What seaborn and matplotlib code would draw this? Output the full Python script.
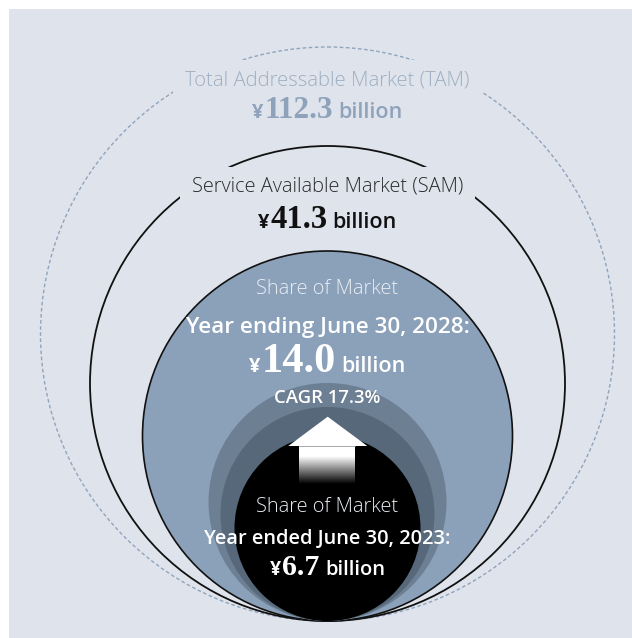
import numpy as np
import matplotlib
matplotlib.use("Agg")
import matplotlib.pyplot as plt
import seaborn as sns
from matplotlib.patches import Circle, Rectangle, Polygon

# ---------------- data ----------------
tier_titles = ["Total Addressable Market (TAM)", "Service Available Market (SAM)",
               "Share of Market", "Share of Market"]
tier_periods = ["", "", "Year ending June 30, 2028:", "Year ended June 30, 2023:"]
tier_values = [112.3, 41.3, 14.0, 6.7]
currency = "¥"
unit = "billion"
cagr_pct = 17.3

# ---------------- style ----------------
sns.set_theme(style="white")
plt.rcParams['font.family'] = ['Open Sans', 'DejaVu Sans']

W, H = 632, 638
fig = plt.figure(figsize=(W / 100, H / 100), dpi=100)
ax = fig.add_axes([0, 0, 1, 1])
ax.set_xlim(0, W)
ax.set_ylim(H, 0)
ax.axis('off')
sns.despine(ax=ax, left=True, bottom=True)

BG = '#dfe3eb'
ax.add_patch(Rectangle((9, 9), W, H, facecolor=BG, edgecolor='none', zorder=0))

CX, BOTTOM = 327.5, 621
radii = [287, 237.5, 185, 119, 107, 93]


def circ(r, **kw):
    return Circle((CX, BOTTOM - r), r, **kw)


ax.add_patch(circ(radii[0], fill=False, edgecolor='#8fa4bd', lw=1.0,
                  linestyle=(0, (2.6, 1.8)), zorder=1))
ax.add_patch(circ(radii[1], fill=False, edgecolor='#111111', lw=1.3, zorder=3))
ax.add_patch(circ(radii[2], facecolor='#8ba1ba', edgecolor='#111111', lw=1.2, zorder=5))
ax.add_patch(circ(radii[3], facecolor='#6d7f93', edgecolor='none', zorder=6))
ax.add_patch(circ(radii[4], facecolor='#566879', edgecolor='none', zorder=7))
ax.add_patch(circ(radii[5], facecolor='#000000', edgecolor='none', zorder=8))

# arrow
ax.add_patch(Polygon([(288.3, 446), (327.7, 416.7), (367.3, 446)], closed=True,
                     facecolor='white', edgecolor='none', zorder=9))
grad_y = np.linspace(446, 485, 80)
vals = np.clip(1 - (grad_y - 456) / (484 - 456), 0, 1)
ax.imshow(vals[:, None], cmap='gray', vmin=0, vmax=1, aspect='auto',
          extent=(299.3, 355, 485, 446), zorder=9, interpolation='bilinear')
ax.plot([299.3, 355], [446.3, 446.3], color='#9a9a9a', lw=0.6, zorder=9.5)
ax.set_xlim(0, W)
ax.set_ylim(H, 0)

fig.canvas.draw()
renderer = fig.canvas.get_renderer()


def rich(y, parts, gaps, color, z=20):
    texts, widths = [], []
    for s, kw in parts:
        t = ax.text(0, y, s, ha='left', va='baseline', color=color, zorder=z, **kw)
        texts.append(t)
        widths.append(t.get_window_extent(renderer).width)
    total = sum(widths) + sum(gaps)
    x = CX - total / 2
    for i, (t, w) in enumerate(zip(texts, widths)):
        t.set_x(x)
        x += w + (gaps[i] if i < len(gaps) else 0)
    return texts


def line(y, s, color, size, weight, z=20):
    return ax.text(CX, y, s, ha='center', va='baseline', color=color,
                   fontsize=size, fontweight=weight, zorder=z)


SERIF = ['Liberation Serif', 'DejaVu Serif']


def value_parts(v, ysize, nsize, bsize):
    return [(currency, dict(fontsize=ysize, fontweight='bold')),
            (f"{v:.1f}", dict(fontsize=nsize, fontweight='bold', family=SERIF)),
            (unit, dict(fontsize=bsize, fontweight='semibold'))]


# TAM
t_tam = line(85, tier_titles[0], '#9fb0c3', 14.6, 'light')
rich(117.5, value_parts(tier_values[0], 14.5, 22.5, 15.5), [1, 5], '#8ea3bb')
# SAM
t_sam = line(192, tier_titles[1], '#2a2a2a', 14.4, 'light')
rich(228.5, value_parts(tier_values[1], 14.5, 23.5, 15.5), [1, 5], '#111111')
# SOM 2028
line(294, tier_titles[2], '#e8edf3', 14.4, 'light')
line(333, tier_periods[2], 'white', 16.2, 'semibold')
rich(371.5, value_parts(tier_values[2], 14.5, 30.5, 15.5), [1, 6], 'white')
line(403, f"CAGR {cagr_pct:.1f}%", 'white', 13.3, 'semibold')
# SOM 2023
line(511.5, tier_titles[3], '#e8edf3', 14.4, 'light')
line(544, tier_periods[3], 'white', 14.4, 'semibold')
rich(575, value_parts(tier_values[3], 14, 21.5, 14.5), [1, 6], 'white')

# masks behind TAM / SAM labels
fig.canvas.draw()
inv = ax.transData.inverted()
for t, top, bot in [(t_tam, 60, 130), (t_sam, 167, 235)]:
    bb = t.get_window_extent(renderer)
    (x0, _), (x1, _) = inv.transform([(bb.x0, bb.y0), (bb.x1, bb.y1)])
    ax.add_patch(Rectangle((x0 - 12, top), (x1 - x0) + 24, bot - top,
                           facecolor=BG, edgecolor='none',
                           zorder=2 if t is t_tam else 4))

fig.savefig('out.png', dpi=100, facecolor='white')
